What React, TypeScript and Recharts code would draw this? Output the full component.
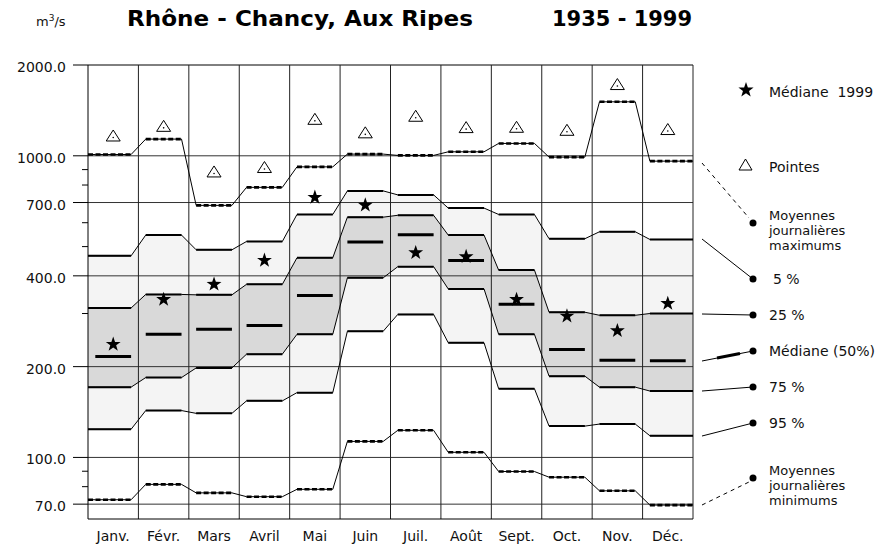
import {
  Area,
  ComposedChart,
  Line,
  ReferenceLine,
  Scatter,
  XAxis,
  YAxis,
} from 'recharts'

// monthly discharge statistics, m3/s
const months = ['Janv.', 'Févr.', 'Mars', 'Avril', 'Mai', 'Juin', 'Juil.', 'Août', 'Sept.', 'Oct.', 'Nov.', 'Déc.']
const moyMax = [1010, 1136, 685, 786, 919, 1013, 1003, 1031, 1099, 990, 1510, 960]
const pointes = [1150, 1238, 874, 904, 1306, 1178, 1337, 1226, 1229, 1201, 1703, 1208]
const q05 = [466, 546, 488, 520, 639, 765, 742, 671, 639, 531, 560, 528]
const q25 = [313, 347, 346, 375, 459, 626, 635, 546, 418, 303, 296, 300]
const q50 = [216, 256, 266, 274, 344, 518, 547, 450, 322, 228, 210, 209]
const med1999 = [237, 334, 375, 450, 728, 686, 477, 463, 334, 294, 263, 324]
const q75 = [171, 184, 198, 220, 256, 394, 429, 362, 256, 186, 171, 166]
const q95 = [124, 143, 140, 154, 164, 262, 298, 240, 169, 127, 129, 118]
const moyMin = [72.4, 81.4, 76.3, 74.1, 78.4, 113, 123, 104, 89.8, 86, 77.5, 69.5]

const yTicks = [70, 80, 90, 100, 200, 300, 400, 500, 600, 700, 800, 900, 1000, 2000]
const yLabels = [70, 100, 200, 400, 700, 1000, 2000]
const yGrid = [70, 100, 200, 400, 700, 1000]

const FONT = '"DejaVu Sans", sans-serif'
const HALF = 0.355

// each month is a flat step; neighbours are joined by a short slope
const bandRows: any[] = []
const flatRows: any[] = []
months.forEach((_, i) => {
  const c = i + 0.5
  const xs: number[] = []
  if (i === 0) xs.push(0)
  xs.push(c - HALF, c + HALF)
  if (i === months.length - 1) xs.push(months.length)
  xs.forEach((x) => {
    const row = {
      x,
      outer: [q95[i], q05[i]],
      inner: [q75[i], q25[i]],
      max: moyMax[i],
      p05: q05[i],
      p25: q25[i],
      p75: q75[i],
      p95: q95[i],
      min: moyMin[i],
    }
    bandRows.push(row)
    const onMedian = Math.abs(x - c) < 0.5
    flatRows.push({ ...row, med: onMedian ? q50[i] : null })
  })
  if (i < months.length - 1) flatRows.push({ x: i + 1, max: null, p05: null, p25: null, p75: null, p95: null, min: null, med: null })
})

const starData = months.map((_, i) => ({ x: i + 0.5, v: med1999[i] }))
const peakData = months.map((_, i) => ({ x: i + 0.5, v: pointes[i] }))
const centers = months.map((_, i) => i + 0.5)

function starPoints(cx: number, cy: number, ro: number, ri: number) {
  const pts: string[] = []
  for (let k = 0; k < 10; k++) {
    const r = k % 2 ? ri : ro
    const a = (-90 + k * 36) * (Math.PI / 180)
    pts.push(`${cx + r * Math.cos(a)},${cy + r * Math.sin(a)}`)
  }
  return pts.join(' ')
}

const StarShape = (p: any) => <polygon points={starPoints(p.cx, p.cy, 7.8, 3.1)} fill="#000" />

const TriShape = (p: any) => (
  <g>
    <path d={`M${p.cx},${p.cy - 7.5} L${p.cx + 7},${p.cy + 3.5} L${p.cx - 7},${p.cy + 3.5} Z`} fill="#fff" stroke="#000" strokeWidth={1} />
    <circle cx={p.cx} cy={p.cy} r={0.8} fill="#000" />
  </g>
)

const YTick = ({ x, y, payload }: any) => {
  const major = yLabels.includes(payload.value)
  return (
    <g>
      <line x1={x - (major ? 15 : 6)} x2={x} y1={y} y2={y} stroke="#000" />
      {major && (
        <text x={x - 22} y={y} dy={7} textAnchor="end" fontFamily={FONT} fontSize={14} fill="#111">
          {payload.value.toFixed(1)}
        </text>
      )}
    </g>
  )
}

const XTick = ({ x, y, payload }: any) => (
  <text x={x} y={y + 22} textAnchor="middle" fontFamily={FONT} fontSize={14} fill="#111">
    {months[Math.floor(payload.value)]}
  </text>
)

const thin = { stroke: '#000', strokeWidth: 1, dot: false, activeDot: false, connectNulls: true, isAnimationActive: false } as const
const thick = { stroke: '#000', dot: false, activeDot: false, connectNulls: false, isAnimationActive: false } as const

function Legend() {
  const txt = { fontFamily: FONT, fontSize: 14, fill: '#111' }
  const small = { fontFamily: FONT, fontSize: 13, fill: '#111' }
  return (
    <svg width={878} height={549} style={{ position: 'absolute', left: 0, top: 0, pointerEvents: 'none' }}>
      <text x={36} y={26} {...txt} fontSize={13}>
        m<tspan dy={-5} fontSize={9}>3</tspan>
        <tspan dy={5}>/s</tspan>
      </text>
      <text x={127} y={26} fontFamily={FONT} fontWeight="bold" fontSize={22} fill="#000" textLength={346} lengthAdjust="spacingAndGlyphs">
        Rhône - Chancy, Aux Ripes
      </text>
      <text x={552} y={26} fontFamily={FONT} fontWeight="bold" fontSize={22} fill="#000" textLength={140} lengthAdjust="spacingAndGlyphs">
        1935 - 1999
      </text>

      <polygon points={starPoints(746, 90, 8, 3.2)} fill="#000" />
      <text x={769} y={97} {...txt} style={{ whiteSpace: 'pre' }}>Médiane  1999</text>

      <path d="M739,170 L752,170 L745.5,159 Z" fill="none" stroke="#000" />
      <text x={769} y={172} {...txt}>Pointes</text>

      <line x1={702} y1={163} x2={749} y2={218} stroke="#000" strokeDasharray="4 4" />
      <circle cx={753} cy={223} r={3.5} fill="#000" />
      <text x={769} y={219.5} {...small}>Moyennes</text>
      <text x={769} y={234.7} {...small}>journalières</text>
      <text x={769} y={249.9} {...small}>maximums</text>

      <line x1={702} y1={239} x2={753} y2={279} stroke="#000" />
      <circle cx={753} cy={279} r={3.5} fill="#000" />
      <text x={773} y={284} {...txt}>5 %</text>

      <line x1={702} y1={314} x2={753} y2={315} stroke="#000" />
      <circle cx={753} cy={315} r={3.5} fill="#000" />
      <text x={769} y={320} {...txt}>25 %</text>

      <line x1={702} y1={361} x2={753} y2={351} stroke="#000" />
      <line x1={717} y1={358} x2={740} y2={353.5} stroke="#000" strokeWidth={3} />
      <circle cx={753} cy={351} r={3.5} fill="#000" />
      <text x={769} y={356} {...txt}>Médiane (50%)</text>

      <line x1={702} y1={391} x2={753} y2={387} stroke="#000" />
      <circle cx={753} cy={387} r={3.5} fill="#000" />
      <text x={769} y={392} {...txt}>75 %</text>

      <line x1={702} y1={436} x2={753} y2={423} stroke="#000" />
      <circle cx={753} cy={423} r={3.5} fill="#000" />
      <text x={769} y={428} {...txt}>95 %</text>

      <line x1={702} y1={505} x2={749} y2={482} stroke="#000" strokeDasharray="4 4" />
      <circle cx={753} cy={478} r={3.5} fill="#000" />
      <text x={769} y={474.6} {...small}>Moyennes</text>
      <text x={769} y={489.8} {...small}>journalières</text>
      <text x={769} y={505} {...small}>minimums</text>
    </svg>
  )
}

export default function App() {
  return (
    <div style={{ position: 'absolute', left: 0, top: 0, width: 878, height: 549, background: '#fff' }}>
      <ComposedChart width={878} height={549} data={bandRows} margin={{ top: 65, right: 185, bottom: 0, left: 0 }}>
        <XAxis
          type="number"
          dataKey="x"
          domain={[0, 12]}
          ticks={centers}
          interval={0}
          tick={(p: any) => <XTick {...p} />}
          tickLine={false}
          tickSize={0}
          tickMargin={0}
          height={30}
          axisLine={{ stroke: '#000' }}
          allowDataOverflow
        />
        <YAxis
          type="number"
          scale="log"
          domain={[62.5, 2000]}
          ticks={yTicks}
          interval={0}
          tick={(p: any) => <YTick {...p} />}
          tickLine={false}
          tickSize={0}
          tickMargin={0}
          width={88}
          axisLine={{ stroke: '#000' }}
          allowDataOverflow
        />
        <Area dataKey="outer" type="linear" stroke="none" fill="#f4f4f4" fillOpacity={1} isAnimationActive={false} activeDot={false} />
        <Area dataKey="inner" type="linear" stroke="none" fill="#d9d9d9" fillOpacity={1} isAnimationActive={false} activeDot={false} />

        {yGrid.map((v) => (
          <ReferenceLine key={'h' + v} y={v} stroke="#333" strokeWidth={1} />
        ))}
        <ReferenceLine y={2000} stroke="#000" strokeWidth={1} />
        {months.map((_, i) => (
          <ReferenceLine key={'v' + i} x={i + 1} stroke="#222" strokeWidth={1} />
        ))}

        <Line dataKey="max" type="linear" {...thin} />
        <Line dataKey="p05" type="linear" {...thin} />
        <Line dataKey="p25" type="linear" {...thin} />
        <Line dataKey="p75" type="linear" {...thin} />
        <Line dataKey="p95" type="linear" {...thin} />
        <Line dataKey="min" type="linear" {...thin} />

        <Line data={flatRows} dataKey="max" type="linear" {...thick} strokeWidth={2.6} strokeDasharray="5 2.5" />
        <Line data={flatRows} dataKey="p05" type="linear" {...thick} strokeWidth={2} />
        <Line data={flatRows} dataKey="p25" type="linear" {...thick} strokeWidth={2} />
        <Line data={flatRows} dataKey="med" type="linear" {...thick} strokeWidth={3} />
        <Line data={flatRows} dataKey="p75" type="linear" {...thick} strokeWidth={2} />
        <Line data={flatRows} dataKey="p95" type="linear" {...thick} strokeWidth={2} />
        <Line data={flatRows} dataKey="min" type="linear" {...thick} strokeWidth={2.6} strokeDasharray="5 2.5" />

        <Scatter data={starData} dataKey="v" shape={(p: any) => <StarShape {...p} />} isAnimationActive={false} />
        <Scatter data={peakData} dataKey="v" shape={(p: any) => <TriShape {...p} />} isAnimationActive={false} />
      </ComposedChart>
      <Legend />
    </div>
  )
}
